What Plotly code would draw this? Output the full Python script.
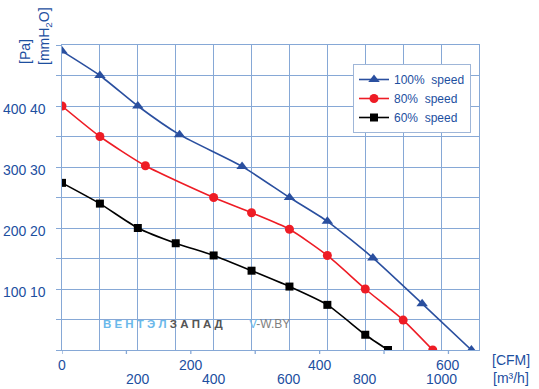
import plotly.graph_objects as go

# ---- data (flow in m3/h, pressure in Pa) ----
flow_100 = [0, 100, 200, 310, 475, 600, 700, 820, 950, 1080]
p_100 = [490, 450, 400, 353, 301, 250, 211, 151, 76, 0]
flow_80 = [0, 100, 220, 400, 500, 600, 700, 800, 900, 978]
p_80 = [400, 350, 302, 250, 225, 198, 155, 100, 49, 0]
flow_60 = [0, 100, 200, 300, 400, 500, 600, 700, 800, 860]
p_60 = [274, 240, 200, 175, 155, 130, 104, 74, 25, 0]

series_names = ["100%\u00a0 speed", "80%\u00a0 speed", "60%\u00a0 speed"]

m3h_ticks = [0, 100, 200, 300, 400, 500, 600, 700, 800, 900, 1000, 1100]
m3h_text = ["", "", "200", "", "400", "", "600", "", "800", "", "1000", ""]
cfm_ticks = [0, 100, 200, 300, 400, 500, 600]
cfm_text = ["0", "", "200", "", "400", "", "600"]
pa_ticks = [0, 50, 100, 150, 200, 250, 300, 350, 400, 450, 500]
pa_text = ["", "", "100", "", "200", "", "300", "", "400", "", ""]
mm_ticks = [10, 20, 30, 40]
mm_text = ["10", "20", "30", "40"]

CFM_TO_M3H = 1.699
PA_PER_MM = 10
X_MAX = 1100
Y_MAX = 500

TXT = "#1d4f9f"
GRID = "#86a8d6"
FONT = "Liberation Sans, Arial, sans-serif"

W, H = 539, 389
ML, MR, MT, MB = 62, 60, 45, 39
PW, PH = W - ML - MR, H - MT - MB


def px_x(px):
    return (px - ML) / PW


def px_y(py):
    return (H - MB - py) / PH


fig = go.Figure()
fig.add_trace(go.Scatter(x=flow_100, y=p_100, name=series_names[0], mode="lines+markers",
                         line=dict(color="#2a4f9f", width=1.6, shape="spline", smoothing=0.6),
                         marker=dict(symbol="triangle-up", size=10, color="#2a4f9f")))
fig.add_trace(go.Scatter(x=flow_80, y=p_80, name=series_names[1], mode="lines+markers",
                         line=dict(color="#ee1c25", width=1.6, shape="spline", smoothing=0.6),
                         marker=dict(symbol="circle", size=9, color="#ee1c25")))
fig.add_trace(go.Scatter(x=flow_60, y=p_60, name=series_names[2], mode="lines+markers",
                         line=dict(color="#000000", width=1.6, shape="spline", smoothing=0.6),
                         marker=dict(symbol="square", size=8, color="#000000")))

fig.update_layout(
    width=W, height=H,
    margin=dict(l=ML, r=MR, t=MT, b=MB, autoexpand=False),
    paper_bgcolor="white", plot_bgcolor="white",
    font=dict(family=FONT, color=TXT, size=14),
    xaxis=dict(range=[0, X_MAX], tickmode="array", tickvals=m3h_ticks,
               showgrid=True, gridcolor=GRID, gridwidth=1.3, zeroline=False,
               showline=True, mirror=True, linecolor=GRID, linewidth=1.3,
               ticks="", showticklabels=False),
    yaxis=dict(range=[0, Y_MAX], tickmode="array", tickvals=pa_ticks,
               showgrid=True, gridcolor=GRID, gridwidth=1.3, zeroline=False,
               showline=True, mirror=True, linecolor=GRID, linewidth=1.3,
               ticks="outside", ticklen=5, tickcolor=GRID, tickwidth=1.3,
               showticklabels=False),
    legend=dict(x=px_x(353), y=px_y(64), xanchor="left", yanchor="top",
                bgcolor="white", bordercolor="#9fb6d8", borderwidth=1,
                font=dict(size=12, color=TXT), itemwidth=30, tracegroupgap=0),
    showlegend=True,
)

def label(**kw):
    kw.setdefault("font", dict(size=14, color=TXT, family=FONT))
    fig.add_annotation(showarrow=False, **kw)

# m3/h tick labels
for v, t in zip(m3h_ticks, m3h_text):
    if t:
        label(xref="x", yref="paper", x=v, y=px_y(379), text=t, xanchor="center", yanchor="middle")

# CFM secondary labels and ticks (placed on the m3/h scale)
for v, t in zip(cfm_ticks, cfm_text):
    xv = v * CFM_TO_M3H
    fig.add_shape(type="line", xref="x", yref="paper", x0=xv, x1=xv,
                  y0=0, y1=-4 / PH, line=dict(color=GRID, width=1.3))
    if t:
        label(xref="x", yref="paper", x=xv, y=px_y(365), text=t, xanchor="center", yanchor="middle")

# Pa labels
for v, t in zip(pa_ticks, pa_text):
    if t:
        label(xref="paper", yref="y", x=px_x(29), y=v, text=t, xanchor="right", yanchor="middle", yshift=-3)

# mmH2O secondary labels
for v, t in zip(mm_ticks, mm_text):
    label(xref="paper", yref="y", x=px_x(48), y=v * PA_PER_MM, text=t,
          xanchor="right", yanchor="middle", yshift=-3)

anns = [
    dict(text="[Pa]", x=25, y=52, angle=-90),
    dict(text="[mmH<sub>2</sub>O]", x=45, y=36, angle=-90),
    dict(text="[CFM]", x=511, y=360, angle=0),
    dict(text="[m³/h]", x=511, y=378, angle=0),
]
for a in anns:
    label(xref="paper", yref="paper", x=px_x(a["x"]), y=px_y(a["y"]),
          text=a["text"], textangle=a["angle"], xanchor="center", yanchor="middle")

# watermark
label(xref="paper", yref="paper", x=px_x(101), y=px_y(324), xanchor="left", yanchor="middle",
      text="<b><span style='color:#6ab8ea'>В Е Н Т Э Л</span> <span style='color:#555555'>З А П А Д</span></b>",
      font=dict(size=11.5, family=FONT))
label(xref="paper", yref="paper", x=px_x(247), y=px_y(324), xanchor="left", yanchor="middle",
      text="<span style='color:#6ab8ea'>V</span><span style='color:#808080'>-W.BY</span>",
      font=dict(size=12, family=FONT))

fig.write_html("out.html", config={"displayModeBar": False},
               post_script="document.body.style.margin='0';")
